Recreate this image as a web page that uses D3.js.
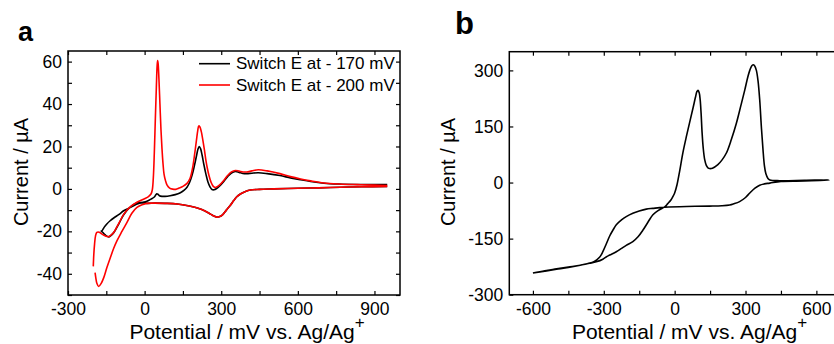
<!DOCTYPE html>
<html>
<head>
<meta charset="utf-8">
<script src="https://cdn.jsdelivr.net/npm/d3@7"></script>
<style>
  body { margin: 0; background: #fff; }
  text { font-family: "Liberation Sans", Arial, Helvetica, sans-serif; }
</style>
</head>
<body>
<svg id="chart" width="834" height="344"></svg>
<script>
// ---- data (potential mV, current uA) ----
var legendLabels = ['Switch E at - 170 mV', 'Switch E at - 200 mV'];
var xTitle = 'Potential / mV vs. Ag/Ag';
var yTitle = 'Current / \u00b5A';

var aXTicks = [-300, 0, 300, 600, 900];
var aXMinor = [-150, 150, 450, 750];
var aYTicks = [-40, -20, 0, 20, 40, 60];
var aYMinor = [-50, -30, -10, 10, 30, 50];

var bXTicks = [-600, -300, 0, 300, 600];
var bXMinor = [-450, -150, 150, 450];
var bYTicks = [-300, -150, 0, 150, 300];

// panel a: cathodic scan 950 -> ~0, shared by both runs
var cathodicShared = [[950, 1.2], [850, 1.0], [767, 0.8], [680, 0.5], [600, 0.3], [506, 0], [450, -0.2],
  [414, -0.5], [395, -1.2], [375, -2.4], [360, -3.8], [349, -5.5], [335, -7.8], [320, -10], [305, -12.2],
  [292, -13.1], [284, -13.3], [272, -12.8], [260, -12], [245, -11], [230, -10.1], [218, -9.5], [200, -8.8],
  [170, -7.9], [128, -7.1], [80, -6.8], [40, -6.7], [9, -6.8]];

var redCathodicTail = [[9, -6.8], [-10, -7.5], [-30, -8.7], [-50, -11.5], [-69, -15.8], [-90, -20.3],
  [-108, -24.4], [-121, -28], [-134, -32.3], [-148, -37.2], [-160, -41.8], [-170, -44.5], [-180, -46],
  [-187, -44.5], [-191, -42], [-194, -39.5]];

var redAnodic = [[-201, -36.5], [-199, -31], [-196, -26], [-192, -22], [-187, -20.5], [-178, -20.4],
  [-168, -21.2], [-155, -22.1], [-141, -22.5], [-130, -21.6], [-121, -20.5], [-110, -18.2], [-100, -16],
  [-82, -12], [-60, -8.8], [-30, -6.3], [0, -4.6], [15, -3.6], [25, -2.4], [30, -0.5], [34, 5], [38, 17],
  [42, 33], [46, 48], [49, 58], [51, 60.5], [53, 59], [56, 52], [60, 40], [64, 28], [68, 19], [72, 12],
  [76, 7], [82, 3.8], [88, 1.8], [98, 0.4], [110, -0.1], [122, -0.2], [135, 0.4], [150, 1.2], [166, 2.6],
  [178, 5], [188, 10], [196, 16.5], [203, 23], [208, 27.5], [212, 29.7], [216, 29.3], [222, 27], [228, 23],
  [234, 18.5], [240, 13.5], [246, 9.5], [252, 6.3], [260, 3.2], [268, 1.3], [276, 0.7], [284, 1], [295, 2],
  [310, 4], [325, 6.3], [340, 8], [355, 8.7], [370, 8.4], [385, 8], [400, 8], [420, 8.5], [445, 9],
  [480, 8.5], [530, 7.2], [571, 5.8], [611, 4.7], [650, 3.8], [702, 2.8], [760, 2.3], [833, 2.0],
  [900, 1.8], [950, 1.6]];

var blackCathodicTail = [[9, -6.8], [-10, -6.5], [-30, -6.6], [-60, -9], [-82, -12.2], [-100, -16.2],
  [-121, -20.6], [-141, -22.6], [-155, -21.6], [-163, -20.6], [-170, -19.9]];

var blackAnodic = [[-170, -19.9], [-167, -19.7], [-158, -18], [-148, -16.5], [-135, -15], [-121, -13.7],
  [-100, -12], [-82, -10.3], [-60, -9], [-43, -7.9], [-20, -6.8], [9, -5.8], [25, -4.8], [38, -3.8],
  [44, -2.8], [48, -2.3], [52, -2.5], [58, -3.2], [68, -3.5], [80, -3.5], [100, -3.2], [120, -2.7],
  [140, -1.8], [155, -0.6], [166, 0.8], [176, 3], [186, 6.5], [195, 11], [203, 15.5], [209, 18.8],
  [214, 20], [219, 19], [225, 16], [232, 11.5], [240, 7], [248, 3.3], [256, 1], [264, -0.3], [272, -0.4],
  [282, 0.2], [295, 1.5], [310, 3.5], [325, 5.8], [340, 7.5], [355, 8.2], [370, 7.8], [385, 7.3],
  [400, 7.2], [420, 7.4], [445, 7.6], [480, 7.2], [530, 6.3], [571, 5.2], [611, 4.3], [650, 3.5],
  [702, 2.7], [760, 2.3], [833, 2.1], [950, 2.1]];

// panel b
var bAnodic = [[-600, -242], [-550, -236], [-500, -231], [-450, -226], [-400, -221], [-360, -216],
  [-332, -212], [-304, -205], [-290, -199], [-275, -194], [-247, -185], [-225, -176], [-205, -168],
  [-177, -158], [-155, -145], [-134, -127], [-112, -105], [-92, -86], [-70, -75], [-50, -68], [-42, -65],
  [-30, -57], [-15, -46], [-7, -37], [0, -28], [10, -6], [21, 30], [35, 80], [50, 124], [65, 165],
  [78, 200], [88, 228], [94, 243], [99, 247], [104, 240], [108, 222], [112, 185], [116, 135], [121, 92],
  [127, 62], [134, 46], [141, 39.5], [148, 37.5], [160, 38.5], [183, 48], [200, 60], [219, 79], [240, 115],
  [261, 158], [280, 205], [297, 248], [310, 283], [318, 300], [326, 312], [332, 315], [339, 312],
  [346, 300], [353, 272], [360, 222], [367, 150], [374, 88], [380, 45], [386, 24], [395, 11], [403, 7],
  [445, 5], [550, 6], [654, 7]];

var bCathodic = [[654, 5], [550, 4], [450, 3], [403, -1.5], [380, -3.5], [360, -7], [340, -15],
  [318, -28], [300, -40], [275, -51], [250, -57], [233, -60], [200, -62], [148, -63], [50, -64],
  [-42, -66], [-64, -67], [-92, -69], [-120, -71], [-150, -76], [-177, -82], [-205, -91], [-225, -100],
  [-247, -113], [-261, -127], [-275, -143], [-290, -165], [-304, -185], [-318, -200], [-340, -211],
  [-370, -217], [-400, -221], [-450, -227], [-500, -232], [-550, -237], [-600, -242]];

// ---- drawing ----
var svg = d3.select('#chart');
var FONT = '"Liberation Sans", Arial, Helvetica, sans-serif';
var red = '#ff0000';

function fmt(d) { return String(d); }

function addAxis(g, axis, tr, vals, labels, pad) {
  var a = g.append('g')
    .attr('transform', tr)
    .call(axis.tickValues(vals).tickSizeInner(-4).tickSizeOuter(0)
      .tickPadding(pad || 0).tickFormat(labels ? fmt : function () { return ''; }));
  a.attr('font-family', FONT).attr('font-size', 17.5);
  a.select('.domain').remove();
  a.selectAll('line').attr('stroke', '#000').attr('stroke-width', 1.2);
  a.selectAll('text').attr('fill', '#000');
  return a;
}

function panel(x, y, xt, xm, yt, ym) {
  var g = svg.append('g');
  var l = x.range()[0], r = x.range()[1], b = y.range()[0], t = y.range()[1];
  addAxis(g, d3.axisBottom(x), 'translate(0,' + b + ')', xt, true, 8);
  addAxis(g, d3.axisBottom(x), 'translate(0,' + b + ')', xm, false);
  addAxis(g, d3.axisTop(x), 'translate(0,' + t + ')', xt.concat(xm), false);
  addAxis(g, d3.axisLeft(y), 'translate(' + l + ',0)', yt, true, 6);
  addAxis(g, d3.axisRight(y), 'translate(' + r + ',0)', yt, false);
  if (ym) {
    addAxis(g, d3.axisLeft(y), 'translate(' + l + ',0)', ym, false);
    addAxis(g, d3.axisRight(y), 'translate(' + r + ',0)', ym, false);
  }
  g.append('rect')
    .attr('x', l).attr('y', t).attr('width', r - l).attr('height', b - t)
    .attr('fill', 'none').attr('stroke', '#000').attr('stroke-width', 1.5);
  return g;
}

function curve(g, x, y, data, color) {
  var line = d3.line()
    .x(function (d) { return x(d[0]); })
    .y(function (d) { return y(d[1]); })
    .curve(d3.curveCatmullRom.alpha(0.5));
  g.append('path')
    .attr('d', line(data))
    .attr('fill', 'none')
    .attr('stroke', color)
    .attr('stroke-width', 1.6)
    .attr('stroke-linejoin', 'round');
}

function titles(cx, yx) {
  var tx = svg.append('text')
    .attr('x', cx).attr('y', 339)
    .attr('text-anchor', 'middle')
    .attr('font-size', 21)
    .text(xTitle);
  tx.append('tspan').attr('dy', -11).attr('font-size', 17).text('+');
  svg.append('text')
    .attr('transform', 'translate(' + yx + ',172) rotate(-90)')
    .attr('text-anchor', 'middle')
    .attr('font-size', 20)
    .text(yTitle);
}

// panel a
var ax = d3.scaleLinear().domain([-300, 1000]).range([68, 400]);
var ay = d3.scaleLinear().domain([-50, 65]).range([295, 51]);
var ga = panel(ax, ay, aXTicks, aXMinor, aYTicks, aYMinor);

curve(ga, ax, ay, cathodicShared.concat(blackCathodicTail.slice(1), blackAnodic.slice(1)), '#000');
curve(ga, ax, ay, cathodicShared.concat(redCathodicTail.slice(1)), red);
curve(ga, ax, ay, redAnodic, red);

// legend
[['#000', 63.7, 69.3], [red, 85, 90.7]].forEach(function (s, i) {
  ga.append('line')
    .attr('x1', 199).attr('x2', 230).attr('y1', s[1]).attr('y2', s[1])
    .attr('stroke', s[0]).attr('stroke-width', 1.6);
  ga.append('text')
    .attr('x', 236).attr('y', s[2])
    .attr('font-size', 17)
    .text(legendLabels[i]);
});
titles(247, 28);

// panel b
var bx = d3.scaleLinear().domain([-700, 700]).range([509.3, 840]);
var by = d3.scaleLinear().domain([-300, 350]).range([294.7, 51.7]);
var gb = panel(bx, by, bXTicks, bXMinor, bYTicks, null);
curve(gb, bx, by, bAnodic.concat(bCathodic.slice(1)), '#000');
titles(689.5, 455);

// panel letters
svg.append('text').attr('x', 18).attr('y', 41).attr('font-size', 27).attr('font-weight', 'bold').text('a');
svg.append('text').attr('x', 455).attr('y', 34).attr('font-size', 31).attr('font-weight', 'bold').text('b');
</script>
</body>
</html>
